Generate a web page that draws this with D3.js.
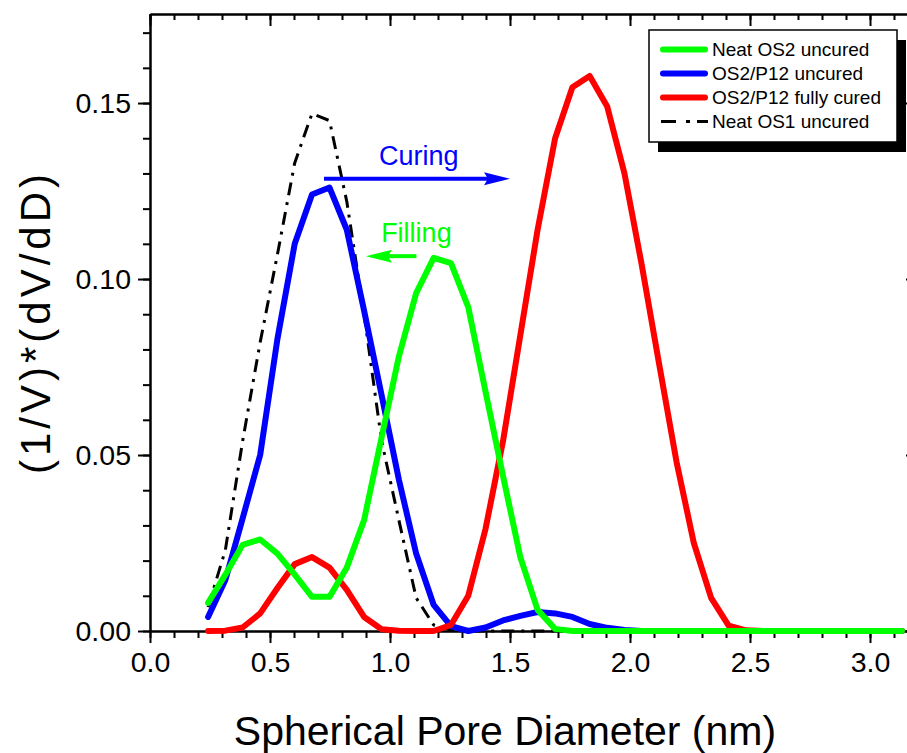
<!DOCTYPE html>
<html>
<head>
<meta charset="utf-8">
<script src="https://cdn.jsdelivr.net/npm/d3@7"></script>
<style>
  body { margin: 0; background: #fff; }
  svg { display: block; font-family: "Liberation Sans", Arial, sans-serif; }
  .axis path, .axis line { stroke: #000; stroke-width: 2; }
  .axis text { font-size: 28.5px; fill: #000; font-family: "Liberation Sans", Arial, sans-serif; }
</style>
</head>
<body>
<svg id="chart"></svg>
<script>
// pore diameters (nm)
const diameter = [0.242, 0.314, 0.386, 0.459, 0.531, 0.603, 0.675, 0.748, 0.820, 0.892,
  0.965, 1.037, 1.109, 1.182, 1.254, 1.326, 1.398, 1.471, 1.543, 1.615,
  1.688, 1.760, 1.832, 1.905, 1.977, 2.049, 2.121, 2.194, 2.266, 2.338,
  2.411, 2.483, 2.555, 2.627, 2.700, 2.772, 2.844, 2.917, 2.989, 3.061, 3.133];

const neatOS2 = [0.008, 0.016, 0.0245, 0.026, 0.022, 0.016, 0.0097, 0.0097, 0.018, 0.0315,
  0.055, 0.078, 0.096, 0.106, 0.1045, 0.092, 0.068, 0.044, 0.021, 0.006,
  0.0006, 0, 0, 0, 0, 0, 0, 0, 0, 0,
  0, 0, 0, 0, 0, 0, 0, 0, 0, 0, 0];

const p12Uncured = [0.004, 0.0145, 0.032, 0.05, 0.083, 0.110, 0.124, 0.126, 0.114, 0.091,
  0.067, 0.043, 0.022, 0.0074, 0.0014, 0, 0.001, 0.003, 0.0043, 0.0054,
  0.005, 0.004, 0.002, 0.0009, 0.0003, 0, 0, 0, 0, 0,
  0, 0, 0, 0, 0, 0, 0, 0, 0, 0, 0];

const p12Cured = [0, 0.0001, 0.001, 0.005, 0.0122, 0.019, 0.021, 0.018, 0.0117, 0.004,
  0.0005, 0.0001, 0, 0, 0.0017, 0.010, 0.029, 0.054, 0.084, 0.114,
  0.140, 0.1545, 0.1577, 0.149, 0.130, 0.104, 0.076, 0.048, 0.025, 0.0094,
  0.0015, 0.0002, 0, 0, 0, 0, 0, 0, 0, 0, 0];

const neatOS1 = [0.0068, 0.023, 0.054, 0.082, 0.107, 0.133, 0.147, 0.145, 0.122, 0.09,
  0.054, 0.0315, 0.0094, 0.0017, 0.0003, 0, 0, 0, 0, 0,
  0, 0, 0, 0, 0, 0, 0, 0, 0, 0,
  0, 0, 0, 0, 0, 0, 0, 0, 0, 0, 0];

const xTicks = [0.0, 0.5, 1.0, 1.5, 2.0, 2.5, 3.0];
const yTicks = [0.00, 0.05, 0.10, 0.15];

const series = [
  { name: 'Neat OS1 uncured', values: neatOS1, color: '#000', width: 3, dash: '13,7,3,7' },
  { name: 'OS2/P12 uncured', values: p12Uncured, color: '#0000ff', width: 6, dash: null },
  { name: 'OS2/P12 fully cured', values: p12Cured, color: '#ff0000', width: 6, dash: null },
  { name: 'Neat OS2 uncured', values: neatOS2, color: '#00ff00', width: 6, dash: null }
];
const legendOrder = ['Neat OS2 uncured', 'OS2/P12 uncured', 'OS2/P12 fully cured', 'Neat OS1 uncured'];

const W = 907, H = 753;
const margin = { top: 14, left: 150 };
const width = 768, height = 617;

const svg = d3.select('#chart')
  .attr('width', W)
  .attr('height', H);

const chart = svg.append('g')
  .attr('transform', `translate(${margin.left},${margin.top})`);

const xScale = d3.scaleLinear().domain([0, 3.2]).range([0, width]);
const yScale = d3.scaleLinear().domain([0, 0.1753]).range([height, 0]);

const xMinor = d3.range(0, 3.21, 0.1).map(d => +d.toFixed(1));
const yMinor = d3.range(0, 0.1751, 0.01).map(d => +d.toFixed(2));

// minor ticks
chart.append('g').attr('class', 'axis')
  .attr('transform', `translate(0,${height})`)
  .call(d3.axisBottom(xScale).tickValues(xMinor).tickSize(7).tickSizeOuter(0).tickFormat(''));
chart.append('g').attr('class', 'axis')
  .call(d3.axisLeft(yScale).tickValues(yMinor).tickSize(7).tickSizeOuter(0).tickFormat(''));
chart.append('g').attr('class', 'axis')
  .call(d3.axisTop(xScale).tickValues(xMinor).tickSize(-6).tickSizeOuter(0).tickFormat(''));
chart.append('g').attr('class', 'axis')
  .attr('transform', `translate(${width},0)`)
  .call(d3.axisRight(yScale).tickValues(yMinor).tickSize(-6).tickSizeOuter(0).tickFormat(''));

// major ticks
chart.append('g').attr('class', 'axis')
  .attr('transform', `translate(0,${height})`)
  .call(d3.axisBottom(xScale).tickValues(xTicks).tickSize(12).tickSizeOuter(0)
    .tickPadding(9).tickFormat(d3.format('.1f')));
chart.append('g').attr('class', 'axis')
  .call(d3.axisLeft(yScale).tickValues(yTicks).tickSize(12).tickSizeOuter(0)
    .tickPadding(7).tickFormat(d3.format('.2f')));
chart.append('g').attr('class', 'axis')
  .call(d3.axisTop(xScale).tickValues(xTicks).tickSize(-12).tickSizeOuter(0).tickFormat(''));
chart.append('g').attr('class', 'axis')
  .attr('transform', `translate(${width},0)`)
  .call(d3.axisRight(yScale).tickValues(yTicks).tickSize(-12).tickSizeOuter(0).tickFormat(''));

// curves
const line = d3.line()
  .x((d, i) => xScale(diameter[i]))
  .y(d => yScale(d));

series.forEach(s => {
  chart.append('path')
    .datum(s.values)
    .attr('fill', 'none')
    .attr('stroke', s.color)
    .attr('stroke-width', s.width)
    .attr('stroke-linejoin', 'round')
    .attr('stroke-linecap', s.dash ? 'butt' : 'round')
    .attr('stroke-dasharray', s.dash)
    .attr('d', line);
});

// annotations
const arrow = (x1, x2, yv, color) => {
  const y = yScale(yv);
  const dir = x2 > x1 ? 1 : -1;
  const tip = xScale(x2);
  chart.append('line')
    .attr('x1', xScale(x1)).attr('x2', tip - dir * 20)
    .attr('y1', y).attr('y2', y)
    .attr('stroke', color).attr('stroke-width', 4);
  chart.append('path')
    .attr('d', `M${tip},${y} L${tip - dir * 26},${y - 6.5} L${tip - dir * 22},${y} L${tip - dir * 26},${y + 6.5} Z`)
    .attr('fill', color);
};

arrow(0.725, 1.5, 0.1285, '#0000ff');
chart.append('text')
  .attr('x', xScale(1.12)).attr('y', yScale(0.1325))
  .attr('text-anchor', 'middle')
  .attr('font-size', 27)
  .attr('fill', '#0000ff')
  .text('Curing');

arrow(1.11, 0.9, 0.1065, '#00ff00');
chart.append('text')
  .attr('x', xScale(1.11)).attr('y', yScale(0.1105))
  .attr('text-anchor', 'middle')
  .attr('font-size', 27)
  .attr('fill', '#00ff00')
  .text('Filling');

// axis titles
svg.append('text')
  .attr('x', 505).attr('y', 745)
  .attr('text-anchor', 'middle')
  .attr('font-size', 41)
  .text('Spherical Pore Diameter (nm)');

svg.append('text')
  .attr('transform', 'translate(50,322) rotate(-90)')
  .attr('text-anchor', 'middle')
  .attr('font-size', 42)
  .attr('letter-spacing', 4)
  .text('(1/V)*(dV/dD)');

// legend
const lg = svg.append('g').attr('transform', 'translate(649,30)');
lg.append('rect')
  .attr('x', 9).attr('y', 10).attr('width', 248).attr('height', 112)
  .attr('fill', '#000');
lg.append('rect')
  .attr('width', 248).attr('height', 112)
  .attr('fill', '#fff').attr('stroke', '#000').attr('stroke-width', 1.5);

const items = lg.selectAll('.item')
  .data(legendOrder.map(n => series.find(s => s.name === n)))
  .enter().append('g')
  .attr('class', 'item')
  .attr('transform', (d, i) => `translate(0,${19.5 + i * 24})`);

items.append('line')
  .attr('x1', d => d.dash ? 12 : 14).attr('x2', d => d.dash ? 59 : 56)
  .attr('stroke', d => d.color)
  .attr('stroke-width', d => d.dash ? 3 : 6)
  .attr('stroke-linecap', d => d.dash ? 'butt' : 'round')
  .attr('stroke-dasharray', d => d.dash ? '15,10,4,7' : null);

items.append('text')
  .attr('x', 63).attr('dy', '0.36em')
  .attr('font-size', 19)
  .text(d => d.name);
</script>
</body>
</html>
